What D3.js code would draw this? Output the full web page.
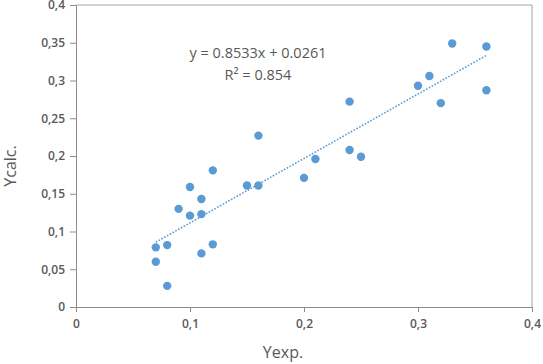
<!DOCTYPE html>
<html>
<head>
<meta charset="utf-8">
<script src="https://cdn.jsdelivr.net/npm/d3@7"></script>
<style>
  body { margin: 0; background: #fff; }
  text { font-family: "Open Sans", "Liberation Sans", sans-serif; fill: #595959; }
</style>
</head>
<body>
<svg id="chart" width="543" height="364"></svg>
<script>
// data
const yExp = [0.07, 0.07, 0.08, 0.08, 0.09, 0.10, 0.10, 0.11, 0.11, 0.11, 0.12, 0.12, 0.15, 0.16, 0.16,
              0.20, 0.21, 0.24, 0.24, 0.25, 0.30, 0.31, 0.32, 0.33, 0.36, 0.36];
const yCalc = [0.079, 0.060, 0.082, 0.028, 0.130, 0.159, 0.121, 0.143, 0.123, 0.071, 0.181, 0.083, 0.161, 0.161, 0.227,
               0.171, 0.196, 0.272, 0.208, 0.199, 0.293, 0.306, 0.270, 0.349, 0.345, 0.287];
const xTicks = [0, 0.1, 0.2, 0.3, 0.4];
const yTicks = [0, 0.05, 0.1, 0.15, 0.2, 0.25, 0.3, 0.35, 0.4];
const slope = 0.8533, intercept = 0.0261;

const margin = {top: 5, right: 11, bottom: 57, left: 76};
const width = 543, height = 364;
const svg = d3.select("#chart");

const x = d3.scaleLinear().domain([0, 0.4]).range([margin.left, width - margin.right]);
const y = d3.scaleLinear().domain([0, 0.4]).range([height - margin.bottom, margin.top]);
const fmt = d => String(d).replace(".", ",");

// frame (top and right)
svg.append("path")
  .attr("d", `M${x(0)},${y(0.4)}H${x(0.4)}V${y(0)}`)
  .attr("fill", "none").attr("stroke", "#a6a6a6");

// axes
const xAxis = g => g
  .attr("transform", "translate(0," + y(0) + ")")
  .call(d3.axisBottom(x).tickValues(xTicks).tickFormat(fmt).tickSize(5).tickPadding(7));
const yAxis = g => g
  .attr("transform", "translate(" + x(0) + ",0)")
  .call(d3.axisLeft(y).tickValues(yTicks).tickFormat(fmt).tickSize(6).tickPadding(5));

svg.append("g").call(xAxis);
svg.append("g").call(yAxis);
svg.selectAll(".domain, .tick line").attr("stroke", "#8c8c8c");
svg.selectAll(".tick text").attr("fill", "#595959").style("font-size", "12px").style("font-weight", "600");

// trend line
const tx = d3.extent(yExp);
svg.append("line")
  .attr("x1", x(tx[0])).attr("y1", y(slope * tx[0] + intercept))
  .attr("x2", x(tx[1])).attr("y2", y(slope * tx[1] + intercept))
  .attr("stroke", "#5b9bd5").attr("stroke-width", 1.6)
  .attr("stroke-dasharray", "1.6,1.6");

// points
svg.append("g").selectAll("circle")
  .data(yExp.map((d, i) => [d, yCalc[i]]))
  .join("circle")
  .attr("cx", d => x(d[0])).attr("cy", d => y(d[1]))
  .attr("r", 4.2).attr("fill", "#5b9bd5");

// equation label
const eq = svg.append("text").attr("text-anchor", "middle").style("font-size", "14.5px");
eq.append("tspan").attr("x", 258).attr("y", 58).text("y = 0.8533x + 0.0261");
eq.append("tspan").attr("x", 258).attr("y", 80).text("R² = 0.854");

// axis titles
svg.append("text").attr("x", 283).attr("y", 358).attr("text-anchor", "middle")
  .style("font-size", "16px").text("Yexp.");
svg.append("text").attr("transform", "translate(16,166) rotate(-90)").attr("text-anchor", "middle")
  .style("font-size", "16px").text("Ycalc.");
</script>
</body>
</html>
